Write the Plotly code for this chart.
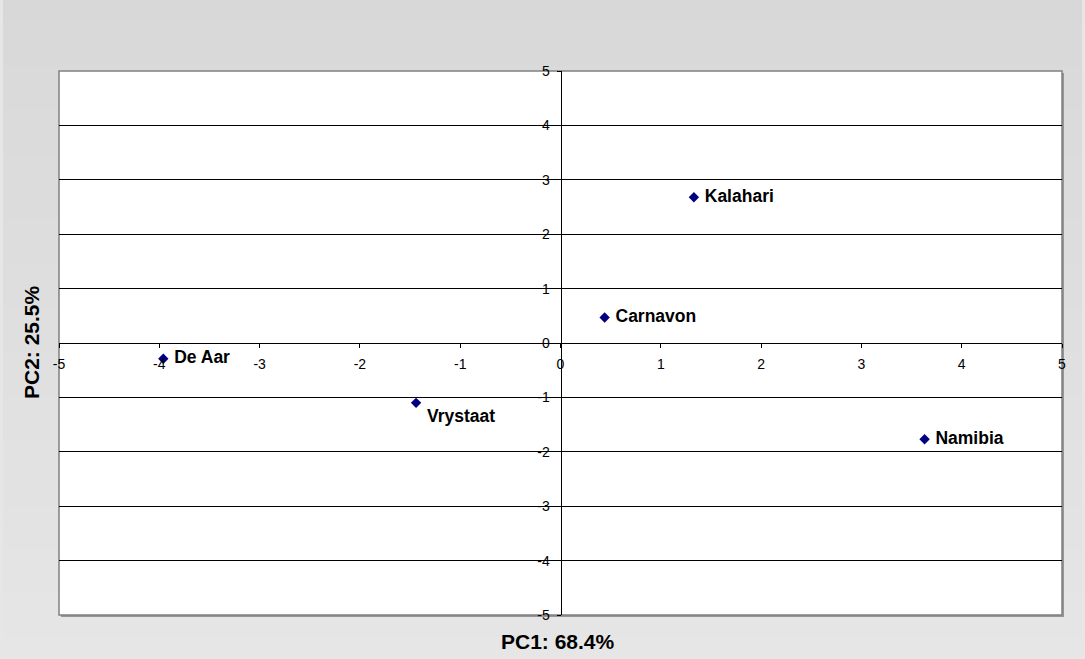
import plotly.graph_objects as go

# Data
sites = ["Kalahari", "Carnavon", "De Aar", "Vrystaat", "Namibia"]
pc1 = [1.33, 0.44, -3.96, -1.44, 3.63]
pc2 = [2.68, 0.47, -0.29, -1.10, -1.77]
label_pos = ["middle right", "middle right", "middle right", "bottom right", "middle right"]
x_title = "PC1: 68.4%"
y_title = "PC2: 25.5%"
tick_vals = [-5, -4, -3, -2, -1, 0, 1, 2, 3, 4, 5]
tick_text = ["-5", "-4", "-3", "-2", "-1", "0", "1", "2", "3", "4", "5"]

W, H = 1085, 659
L, R, T, B = 59, 23, 71, 44
PW, PH = W - L - R, H - T - B

def px2x(px):
    return (px - L) / PW

def py2y(py):
    return (H - B - py) / PH

FONT = "Arial, Liberation Sans, sans-serif"

fig = go.Figure()
fig.add_trace(go.Scatter(
    x=pc1, y=pc2, mode="markers+text",
    text=["\u00a0" + s for s in sites],
    textposition=label_pos,
    marker=dict(symbol="diamond", size=8, color="#000080", line=dict(width=0)),
    textfont=dict(family=FONT, size=17.5, color="#000000", weight="bold"),
    cliponaxis=False, showlegend=False, hoverinfo="skip",
))

shapes = []
# background vertical gradient (chart area)
n = 30
c0, c1 = 0xd8, 0xe6
for i in range(n):
    ya, yb = H * i / n, H * (i + 1) / n
    c = int(round(c0 + (c1 - c0) * (i + 0.5) / n))
    col = f"rgb({c},{c},{c})"
    shapes.append(dict(type="rect", xref="paper", yref="paper",
                       x0=px2x(0), x1=px2x(W), y0=py2y(yb), y1=py2y(ya),
                       fillcolor=col, line=dict(width=0), layer="below"))
# thin lighter edges
for xa, xb in [(0, 3), (W - 3, W)]:
    shapes.append(dict(type="rect", xref="paper", yref="paper",
                       x0=px2x(xa), x1=px2x(xb), y0=py2y(H), y1=py2y(0),
                       fillcolor="rgb(230,230,230)", line=dict(width=0), layer="below"))
# plot area shadow + white area
shapes.append(dict(type="rect", xref="paper", yref="paper",
                   x0=px2x(L + 2), x1=px2x(L + PW + 2), y0=py2y(T + PH + 2), y1=py2y(T + 2),
                   fillcolor="rgb(150,150,150)", line=dict(width=0), layer="below"))
shapes.append(dict(type="rect", xref="paper", yref="paper",
                   x0=0, x1=1, y0=0, y1=1,
                   fillcolor="#ffffff", line=dict(color="#808080", width=1.5), layer="below"))

fig.update_layout(
    width=W, height=H,
    margin=dict(l=L, r=R, t=T, b=B, autoexpand=False),
    paper_bgcolor="#dcdcdc", plot_bgcolor="rgba(0,0,0,0)",
    shapes=shapes,
    font=dict(family=FONT, color="#000000"),
    xaxis=dict(range=[-5, 5], tickvals=tick_vals, ticktext=tick_text, anchor="free", position=0.5,
               showgrid=False, zeroline=False, showline=True, linecolor="#000000", linewidth=1,
               ticks="outside", ticklen=4, tickcolor="#000000", tickwidth=1,
               tickfont=dict(family=FONT, size=14, color="#000000"),
               ticklabelstandoff=4, fixedrange=True, automargin=False),
    yaxis=dict(range=[-5, 5], tickvals=tick_vals, ticktext=tick_text, anchor="free", position=0.5,
               showgrid=True, gridcolor="#000000", gridwidth=1,
               zeroline=False, showline=True, linecolor="#000000", linewidth=1,
               ticks="outside", ticklen=4, tickcolor="#000000", tickwidth=1,
               tickfont=dict(family=FONT, size=14, color="#000000"),
               ticklabelstandoff=4, fixedrange=True, automargin=False),
    annotations=[
        dict(text=f"<b>{x_title}</b>", xref="paper", yref="paper", x=px2x(558), y=py2y(641),
             showarrow=False, font=dict(family=FONT, size=21, color="#000000"),
             xanchor="center", yanchor="middle"),
        dict(text=f"<b>{y_title}</b>", xref="paper", yref="paper", x=px2x(31), y=py2y(342),
             showarrow=False, textangle=-90, font=dict(family=FONT, size=21, color="#000000"),
             xanchor="center", yanchor="middle"),
    ],
)

fig.write_html("out.html", config={"displayModeBar": False},
               post_script="document.body.style.margin='0';")
